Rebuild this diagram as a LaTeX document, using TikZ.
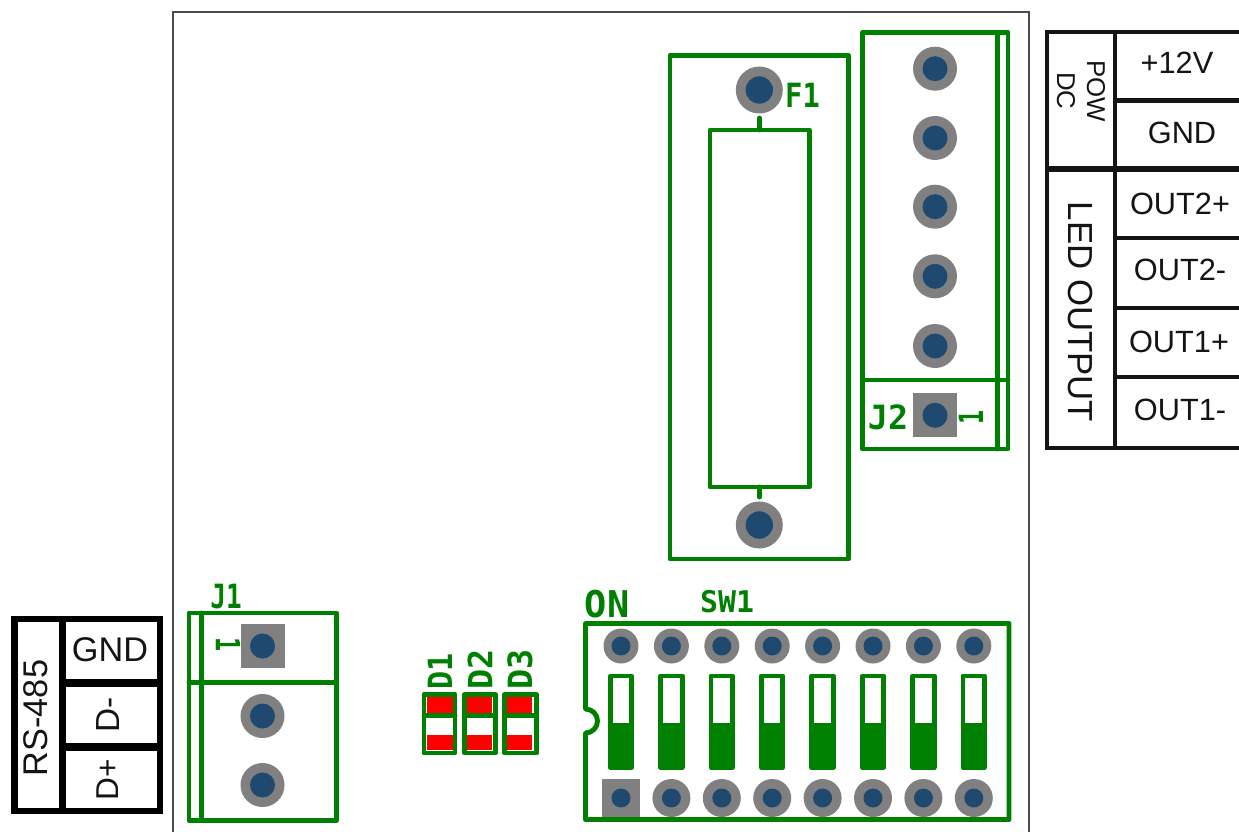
\documentclass[tikz,border=0pt]{standalone}
\usepackage{fontspec}
\setmainfont{Liberation Sans}
\newfontfamily\silkfont[Scale=1.0]{DejaVu Sans Mono Bold}
\usetikzlibrary{calc}
\definecolor{silkgreen}{RGB}{0,128,0}
\definecolor{padgray}{RGB}{128,128,128}
\definecolor{holeblue}{RGB}{31,73,110}
\tikzset{
	silk/.style={draw=silkgreen, line width=2.8pt, line join=round, line cap=round},
	rule/.style={draw=black!92, line width=#1},
	rule/.default=2.7pt,
	sheet/.style={inner sep=0pt, text=black!92, font=\fontsize{17.5}{18}\selectfont},
	silktext/.style={inner sep=0pt, text=silkgreen, font=\silkfont\fontsize{#1}{#1}\selectfont},
	silktext/.default=19
}
\def\roundpad(#1,#2)[#3:#4]{\fill[padgray] (#1,#2) circle (#3); \fill[holeblue] (#1,#2) circle (#4);}
\def\squarepad(#1,#2)[#3:#4]{\fill[padgray] (#1-#3,#2-#3) rectangle (#1+#3,#2+#3); \fill[holeblue] (#1,#2) circle (#4);}
\def\dipslide(#1){\draw[silk, fill=white] (#1,676) rectangle (#1+21.5,767.5); \fill[silkgreen] (#1,722.7) rectangle (#1+21.5,767.5);}

\begin{document}
\begin{tikzpicture}[x=0.02cm, y=-0.02cm]
	\useasboundingbox (0,0) rectangle (1239,831);
	%%%%% BOARD %%%%%
	\draw[black!70, line width=0.6pt] (173,840) -- (173,12) -- (1029,12) -- (1029,840);

	%%%%% RS-485 TABLE %%%%%
	\draw[rule=3.7pt, draw=black] (14.5,619) rectangle (160,811);
	\draw[rule=4.5pt, draw=black] (62.5,619) -- (62.5,811);
	\draw[rule=4pt, draw=black] (62.5,683) -- (160,683);
	\draw[rule=4pt, draw=black] (62.5,747) -- (160,747);
	\node[sheet, font=\fontsize{19.5}{20}\selectfont, rotate=90] (rslabel) at (36,718) {RS-485};
	\node[sheet, font=\fontsize{19.5}{20}\selectfont] (gndrs) at (110,650) {GND};
	\node[sheet, font=\fontsize{19}{19}\selectfont, rotate=90] (dminus) at (108,715) {D-};
	\node[sheet, font=\fontsize{18}{18}\selectfont, rotate=90] (dplus) at (108,780) {D+};

	%%%%% POWER / OUTPUT TABLE %%%%%
	\draw[rule] (1260,32) -- (1047,32) -- (1047,448) -- (1260,448);
	\draw[rule] (1115,32) -- (1115,448);
	\draw[rule] (1115,100.5) -- (1260,100.5);
	\draw[rule=3.4pt] (1047,169) -- (1260,169);
	\draw[rule] (1115,238) -- (1260,238);
	\draw[rule] (1115,308) -- (1260,308);
	\draw[rule] (1115,377) -- (1260,377);
	\node[sheet, font=\fontsize{14.7}{15}\selectfont, rotate=-90] (powlabel) at (1096,91) {POW};
	\node[sheet, font=\fontsize{14.7}{15}\selectfont, rotate=-90] (dclabel) at (1066,91) {DC};
	\node[sheet, font=\fontsize{19.8}{20}\selectfont, rotate=-90] (ledlabel) at (1080,312) {LED OUTPUT};
	\node[sheet] (plus12) at (1177,63) {+12V};
	\node[sheet] (gndpow) at (1182,133) {GND};
	\node[sheet] (outtwoplus) at (1180,204) {OUT2+};
	\node[sheet] (outtwominus) at (1180,270) {OUT2-};
	\node[sheet] (outoneplus) at (1179,342) {OUT1+};
	\node[sheet] (outoneminus) at (1180,410) {OUT1-};

	%%%%% F1 %%%%%
	\draw[silk] (670,55.5) rectangle (848.5,559);
	\draw[silk] (710,130) rectangle (809.5,487);
	\draw[silk] (759.5,118) -- (759.5,130);
	\draw[silk] (759.5,487) -- (759.5,497);
	\roundpad(759.3,90)[23.5:13.7]
	\roundpad(759.3,525)[23.5:13.7]
	\node[silktext, xscale=0.86] (fuselabel) at (802.5,95) {F1};

	%%%%% J2 %%%%%
	\draw[silk] (862.5,32.5) rectangle (1008,449);
	\draw[silk] (997.5,32.5) -- (997.5,449);
	\draw[silk] (862.5,380) -- (1008,380);
	\roundpad(935,68.7)[22:12.5]
	\roundpad(935,138)[22:12.5]
	\roundpad(935,206.7)[22:12.5]
	\roundpad(935,276.3)[22:12.5]
	\roundpad(935,346)[22:12.5]
	\squarepad(935,415.3)[22:12.5]
	\node[silktext] (jtwolabel) at (888,417) {J2};
	\node[silktext, rotate=90, xscale=0.7] (jtwopin) at (971,417) {1};

	%%%%% J1 %%%%%
	\draw[silk] (189,613) rectangle (336.5,820.5);
	\draw[silk] (201.5,613) -- (201.5,820.5);
	\draw[silk] (189,682.5) -- (336.5,682.5);
	\squarepad(262.5,646)[22:12.5]
	\roundpad(262.5,716)[22:12.5]
	\roundpad(262.5,785)[22:12.5]
	\node[silktext, xscale=0.78] (jonelabel) at (226,597) {J1};
	\node[silktext, rotate=-90, xscale=0.7] (jonepin) at (228,645) {1};

	%%%%% D1 D2 D3 %%%%%
	\fill[red] (427,697) rectangle (453,713);
	\fill[red] (427,735) rectangle (453,750);
	\fill[red] (467,697) rectangle (492,713);
	\fill[red] (467,735) rectangle (492,750);
	\fill[red] (507,697) rectangle (532,713);
	\fill[red] (507,735) rectangle (532,750);
	\draw[silk] (424,694.5) rectangle (455,753);
	\draw[silk] (424,715.5) -- (455,715.5);
	\draw[silk] (464.5,694.5) rectangle (495.5,753);
	\draw[silk] (464.5,715.5) -- (495.5,715.5);
	\draw[silk] (504.5,694.5) rectangle (536.5,753);
	\draw[silk] (504.5,715.5) -- (536.5,715.5);
	\node[silktext, rotate=90, xscale=0.9] (donelabel) at (440,671) {D1};
	\node[silktext, rotate=90] (dtwolabel) at (480,669) {D2};
	\node[silktext, rotate=90] (dthreelabel) at (520,669) {D3};

	%%%%% SW1 %%%%%
	\draw[silk] (585.5,733) arc (90:-90:12) -- (585.5,623.5) -- (1009,623.5) -- (1009,819.5) -- (585.5,819.5) -- cycle;
	\roundpad(621,646)[17.5:9.5]
	\roundpad(671.4,646)[17.5:9.5]
	\roundpad(721.8,646)[17.5:9.5]
	\roundpad(772.2,646)[17.5:9.5]
	\roundpad(822.6,646)[17.5:9.5]
	\roundpad(873,646)[17.5:9.5]
	\roundpad(923.4,646)[17.5:9.5]
	\roundpad(973.8,646)[17.5:9.5]
	\squarepad(621,798)[19:9.5]
	\roundpad(671.4,798)[19:9.5]
	\roundpad(721.8,798)[19:9.5]
	\roundpad(772.2,798)[19:9.5]
	\roundpad(822.6,798)[19:9.5]
	\roundpad(873,798)[19:9.5]
	\roundpad(923.4,798)[19:9.5]
	\roundpad(973.8,798)[19:9.5]
	\dipslide(610.2)
	\dipslide(660.6)
	\dipslide(711)
	\dipslide(761.4)
	\dipslide(811.8)
	\dipslide(862.2)
	\dipslide(912.6)
	\dipslide(963)
	\node[silktext=21] (onlabel) at (607,604) {ON};
	\node[silktext=17] (swlabel) at (727,602) {SW1};
\end{tikzpicture}
\end{document}
